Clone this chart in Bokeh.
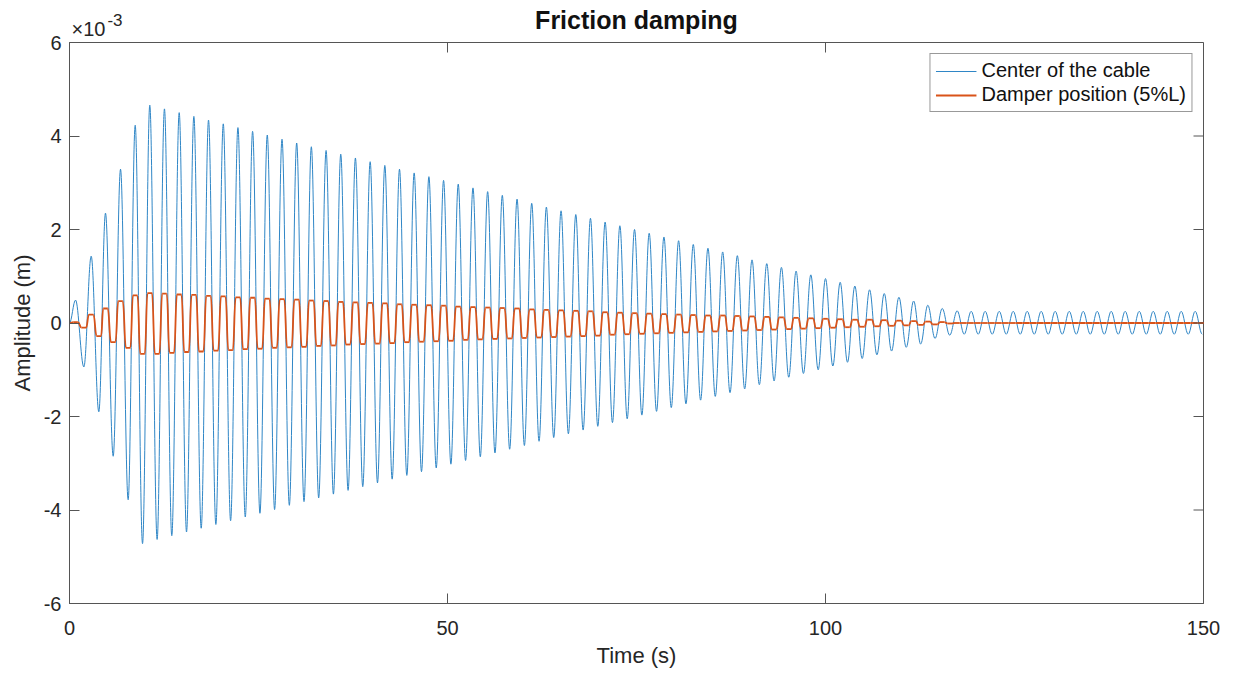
from bokeh.plotting import figure
from bokeh.models import FixedTicker, Range1d, LinearAxis
from bokeh.embed import file_html
from bokeh.resources import INLINE

FONT = "Liberation Sans"
TXT = "#262626"
AX = "#555555"
BLUE = "#2f86c6"
ORANGE = "#D95319"

# ---------------- data (amplitudes in units of 1e-3 m) ----------------
title_text = "Friction damping"
x_label = "Time (s)"
y_label = "Amplitude (m)"
exp_base, exp_power = "\u00d710", "-3"

x_ticks = [0, 50, 100, 150]
y_ticks = [-6, -4, -2, 0, 2, 4, 6]
y_tick_labels = ["-6", "-4", "-2", "0", "2", "4", "6"]

# times (s) of the cable's local maxima / minima
peak_t = [0.80, 2.87, 4.76, 6.75, 8.69,
          10.62, 12.56, 14.51, 16.45, 18.39, 20.34, 22.28, 24.22, 26.16, 28.11,
          30.05, 31.99, 33.94, 35.88, 37.82, 39.77, 41.71, 43.65, 45.59, 47.54,
          49.48, 51.42, 53.37, 55.31, 57.25, 59.20, 61.14, 63.08, 65.02, 66.97,
          68.91, 70.85, 72.80, 74.74, 76.68, 78.63, 80.57, 82.51, 84.45, 86.40,
          88.34, 90.28, 92.23, 94.17, 96.11, 98.06, 100.00, 101.94, 103.88, 105.83,
          107.77, 109.71, 111.66,
          113.53, 115.44, 117.42, 119.27, 121.12, 122.98, 124.83, 126.68, 128.53, 130.38,
          132.24, 134.09, 135.94, 137.79, 139.64, 141.50, 143.35, 145.20, 147.05, 148.90]
trough_t = [1.90, 3.88, 5.78, 7.76, 9.66,
            11.59, 13.53, 15.48, 17.42, 19.36, 21.31, 23.25, 25.19, 27.13, 29.08,
            31.02, 32.96, 34.91, 36.85, 38.79, 40.74, 42.68, 44.62, 46.56, 48.51,
            50.45, 52.39, 54.34, 56.28, 58.22, 60.17, 62.11, 64.05, 65.99, 67.94,
            69.88, 71.82, 73.77, 75.71, 77.65, 79.60, 81.54, 83.48, 85.42, 87.37,
            89.31, 91.25, 93.20, 95.14, 97.08, 99.03, 100.97, 102.91, 104.85, 106.80,
            108.74, 110.68,
            112.59, 114.49, 116.43, 118.35, 120.20, 122.05, 123.91, 125.76, 127.61, 129.46,
            131.31, 133.17, 135.02, 136.87, 138.72, 140.57, 142.43, 144.28, 146.13, 147.98,
            149.83]

# Center of the cable: value at each maximum / minimum
cable_peak = [0.49, 1.43, 2.35, 3.29, 4.23,
              4.66, 4.58, 4.50, 4.42, 4.34, 4.26, 4.18, 4.10, 4.02, 3.93,
              3.85, 3.77, 3.69, 3.61, 3.53, 3.45, 3.37, 3.29, 3.21, 3.13,
              3.05, 2.97, 2.89, 2.81, 2.73, 2.65, 2.56, 2.48, 2.40, 2.32,
              2.24, 2.16, 2.08, 2.00, 1.92, 1.84, 1.76, 1.68, 1.60, 1.52,
              1.44, 1.35, 1.27, 1.19, 1.11, 1.03, 0.95, 0.87, 0.79, 0.71,
              0.63, 0.55, 0.47,
              0.38, 0.31, 0.26, 0.25, 0.25, 0.25, 0.25, 0.25, 0.25, 0.25,
              0.25, 0.25, 0.25, 0.25, 0.25, 0.25, 0.25, 0.25, 0.25, 0.25]
cable_trough = [-0.94, -1.90, -2.85, -3.78, -4.72,
                -4.63, -4.55, -4.47, -4.39, -4.31, -4.23, -4.15, -4.07, -3.99, -3.90,
                -3.82, -3.74, -3.66, -3.58, -3.50, -3.42, -3.34, -3.26, -3.18, -3.10,
                -3.02, -2.94, -2.86, -2.78, -2.70, -2.62, -2.53, -2.45, -2.37, -2.29,
                -2.21, -2.13, -2.05, -1.97, -1.89, -1.81, -1.73, -1.65, -1.57, -1.49,
                -1.41, -1.32, -1.24, -1.16, -1.08, -1.00, -0.92, -0.84, -0.76, -0.68,
                -0.60, -0.52,
                -0.45, -0.33, -0.26, -0.24, -0.24, -0.24, -0.24, -0.24, -0.24, -0.24,
                -0.24, -0.24, -0.24, -0.24, -0.24, -0.24, -0.24, -0.24, -0.24, -0.24,
                -0.24]

# Damper position (5%L): plateau value at each cable maximum / minimum
damper_peak = [0.02, 0.18, 0.31, 0.47, 0.59,
               0.64, 0.63, 0.61, 0.60, 0.58, 0.57, 0.55, 0.54, 0.52, 0.51,
               0.50, 0.48, 0.47, 0.45, 0.44, 0.43, 0.42, 0.40, 0.39, 0.38,
               0.37, 0.35, 0.34, 0.33, 0.32, 0.31, 0.29, 0.28, 0.27, 0.26,
               0.25, 0.23, 0.22, 0.21, 0.20, 0.19, 0.18, 0.17, 0.16, 0.16,
               0.15, 0.14, 0.13, 0.12, 0.11, 0.10, 0.09, 0.08, 0.07, 0.07,
               0.06, 0.05, 0.04,
               0.03, 0.02, 0.00, 0.00, 0.00, 0.00, 0.00, 0.00, 0.00, 0.00,
               0.00, 0.00, 0.00, 0.00, 0.00, 0.00, 0.00, 0.00, 0.00, 0.00]
damper_trough = [-0.10, -0.28, -0.41, -0.53, -0.66,
                 -0.66, -0.64, -0.62, -0.61, -0.59, -0.58, -0.56, -0.55, -0.53, -0.52,
                 -0.51, -0.49, -0.48, -0.46, -0.45, -0.44, -0.43, -0.41, -0.40, -0.39,
                 -0.38, -0.36, -0.35, -0.34, -0.33, -0.32, -0.31, -0.30, -0.29, -0.28,
                 -0.27, -0.25, -0.24, -0.23, -0.22, -0.21, -0.20, -0.19, -0.18, -0.17,
                 -0.16, -0.15, -0.14, -0.13, -0.12, -0.11, -0.10, -0.09, -0.08, -0.07,
                 -0.06, -0.05,
                 -0.04, -0.03, -0.01, 0.00, 0.00, 0.00, 0.00, 0.00, 0.00, 0.00,
                 0.00, 0.00, 0.00, 0.00, 0.00, 0.00, 0.00, 0.00, 0.00, 0.00,
                 0.00]

t_start, t_end = 0.0, 150.0
y_lo, y_hi = -6.0, 6.0


def merge(pt, tt, pv, tv):
    ev = sorted(list(zip(pt, pv)) + list(zip(tt, tv)))
    return [e[0] for e in ev], [e[1] for e in ev]


# cable: smooth half-waves between successive extrema
ct, cv = merge(peak_t, trough_t, cable_peak, cable_trough)
ct = [t_start] + ct
cv = [0.0] + cv
cab = dict(x0=[], y0=[], x1=[], y1=[], cx0=[], cy0=[], cx1=[], cy1=[])
for i in range(len(ct) - 1):
    a, b = ct[i], ct[i + 1]
    d = b - a
    cab["x0"].append(a); cab["y0"].append(cv[i])
    cab["x1"].append(b); cab["y1"].append(cv[i + 1])
    cab["cx0"].append(a + 0.364 * d); cab["cy0"].append(cv[i])
    cab["cx1"].append(b - 0.364 * d); cab["cy1"].append(cv[i + 1])

# damper: plateau around each extremum, S-shaped slips between them
dt, dv = merge(peak_t, trough_t, damper_peak, damper_trough)
W = 0.30
dam = dict(x0=[], y0=[], x1=[], y1=[], cx0=[], cy0=[], cx1=[], cy1=[])


def seg(xa, ya, xb, yb, k):
    d = xb - xa
    dam["x0"].append(xa); dam["y0"].append(ya)
    dam["x1"].append(xb); dam["y1"].append(yb)
    dam["cx0"].append(xa + k * d); dam["cy0"].append(ya)
    dam["cx1"].append(xb - k * d); dam["cy1"].append(yb)


px, py = t_start, 0.0
for t, v in zip(dt, dv):
    seg(px, py, t - W, v, 0.45)
    seg(t - W, v, t + W, v, 0.0)
    px, py = t + W, v
seg(px, py, t_end, 0.0, 0.0)

# ---------------- figure ----------------
W_PX, H_PX = 1232, 672
BL, BR, BT, BB = 69, 29, 42, 69
FW, FH = W_PX - BL - BR, H_PX - BT - BB
PX2T = (t_end - t_start) / FW          # data units of time per screen pixel

p = figure(width=W_PX, height=H_PX, output_backend="svg", toolbar_location=None,
           x_range=Range1d(t_start, t_end), y_range=Range1d(y_lo, y_hi),
           min_border_left=BL, min_border_right=BR, min_border_top=BT, min_border_bottom=BB)
p.background_fill_color = "white"
p.border_fill_color = "white"
p.outline_line_color = AX
p.outline_line_width = 1
p.grid.visible = False

p.bezier(x0="x0", y0="y0", x1="x1", y1="y1", cx0="cx0", cy0="cy0", cx1="cx1", cy1="cy1",
         source=cab, line_color=BLUE, line_width=1.0, legend_label="Center of the cable")
p.bezier(x0="x0", y0="y0", x1="x1", y1="y1", cx0="cx0", cy0="cy0", cx1="cx1", cy1="cy1",
         source=dam, line_color=ORANGE, line_width=1.8, legend_label="Damper position (5%L)")

# inward tick marks on the top and right edges of the box (from the tick lists)
tick_dx = 10.0 * PX2T
tick_dy = 10.0 * (y_hi - y_lo) / FH
p.segment(x0=[t_end] * len(y_ticks), x1=[t_end - tick_dx] * len(y_ticks),
          y0=y_ticks, y1=y_ticks, line_color=AX, line_width=1)
p.segment(x0=x_ticks, x1=x_ticks, y0=[y_hi] * len(x_ticks),
          y1=[y_hi - tick_dy] * len(x_ticks), line_color=AX, line_width=1)

xa = p.xaxis[0]
ya = p.yaxis[0]
xa.ticker = FixedTicker(ticks=x_ticks)
ya.ticker = FixedTicker(ticks=y_ticks)
ya.major_label_overrides = {t: s for t, s in zip(y_ticks, y_tick_labels)}
xa.axis_label = x_label
ya.axis_label = y_label
for ax in (xa, ya):
    ax.axis_line_color = AX
    ax.major_tick_line_color = AX
    ax.major_tick_in = 10
    ax.major_tick_out = 0
    ax.minor_tick_line_color = None
    ax.major_label_text_font = FONT
    ax.major_label_text_font_size = "20px"
    ax.major_label_text_color = TXT
    ax.axis_label_text_font = FONT
    ax.axis_label_text_font_size = "22px"
    ax.axis_label_text_font_style = "normal"
    ax.axis_label_text_color = TXT
xa.major_label_standoff = 17
xa.axis_label_standoff = 5
ya.major_label_standoff = 8
ya.axis_label_standoff = 6

# panel above the frame: exponent "x10" + title (inner), raised "-3" (outer)
exp_x = t_start + 19 * PX2T     # centre of "x10", just right of the box corner
pow_x = t_start + 45.5 * PX2T   # centre of the raised "-3"
top_a = LinearAxis(ticker=FixedTicker(ticks=[exp_x]),
                   major_label_overrides={exp_x: exp_base})
top_a.axis_label = title_text
top_a.axis_label_text_font = FONT
top_a.axis_label_text_font_size = "25px"
top_a.axis_label_text_font_style = "bold"
top_a.axis_label_text_color = "#111111"
top_a.axis_label_standoff = -19
top_a.major_label_standoff = 3
top_a.major_label_text_font_size = "20px"

top_b = LinearAxis(ticker=FixedTicker(ticks=[pow_x]),
                   major_label_overrides={pow_x: exp_power})
top_b.major_label_standoff = -23
top_b.major_label_text_font_size = "17px"

for ax in (top_a, top_b):
    ax.axis_line_color = None
    ax.major_tick_line_color = None
    ax.minor_tick_line_color = None
    ax.major_tick_in = 0
    ax.major_tick_out = 0
    ax.major_label_text_font = FONT
    ax.major_label_text_color = TXT
p.add_layout(top_a, "above")
p.add_layout(top_b, "above")

lg = p.legend[0]
lg.location = "top_right"
lg.margin = 11
lg.padding = 5
lg.spacing = 1
lg.border_line_color = "#333333"
lg.border_line_width = 1
lg.background_fill_alpha = 1.0
lg.label_text_font = FONT
lg.label_text_font_size = "20px"
lg.label_text_color = "#111111"
lg.glyph_width = 41
lg.label_standoff = 5

open("out.html", "w").write(file_html(p, INLINE))
